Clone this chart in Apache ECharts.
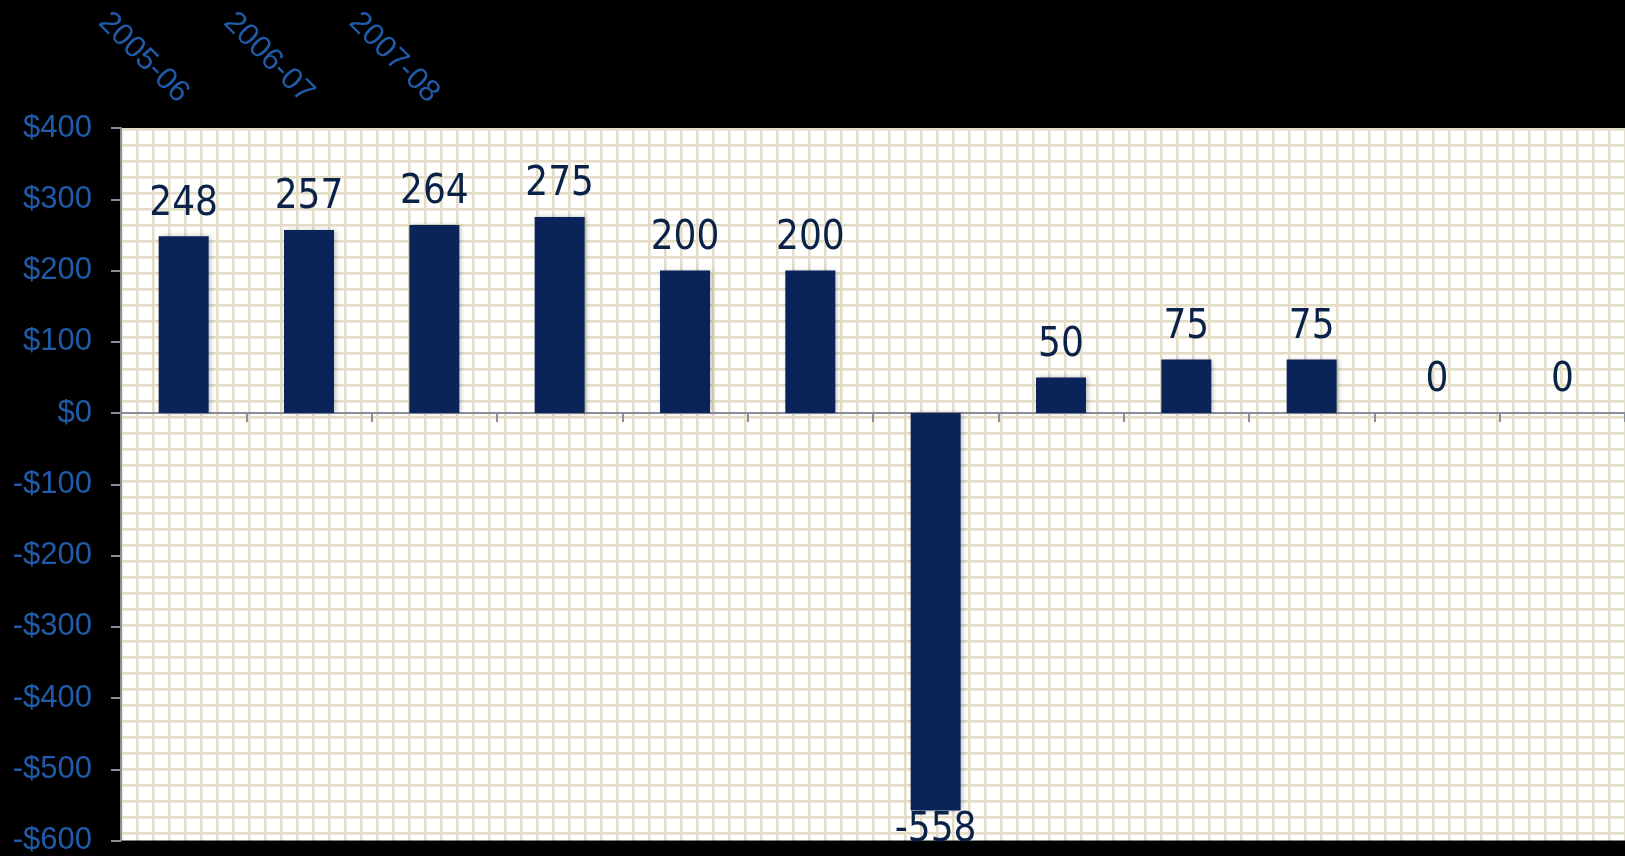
<!DOCTYPE html>
<html><head><meta charset="utf-8">
<script src="https://cdn.jsdelivr.net/npm/echarts@6/dist/echarts.min.js"></script>
<style>html,body{margin:0;padding:0;background:#000;}#c{width:1625px;height:856px;}</style>
</head><body><div id="c"></div>
<script>
const categories = ['2005-06','2006-07','2007-08','','','','','','','','',''];
const values = [248,257,264,275,200,200,-558,50,75,75,0,0];
const yTicks = {min:-600, max:400, interval:100};

const pc = document.createElement('canvas');
pc.width = 16; pc.height = 16;
const g = pc.getContext('2d');
g.fillStyle = '#ffffff'; g.fillRect(0,0,16,16);
g.fillStyle = '#f0ebdd';
g.fillRect(0,2,16,1);
g.fillRect(10,0,1,16);
g.fillStyle = '#e3dcc6';
g.fillRect(0,0,16,2);
g.fillRect(8,0,2,16);

const blue = '#1f5ba8';
const axisGrey = '#8a8e99';
const chart = echarts.init(document.getElementById('c'));
chart.setOption({
  backgroundColor:'#000000',
  animation:false,
  grid:{left:121, right:-9, top:128, bottom:15, show:true, borderWidth:0, backgroundColor:{image:pc, repeat:'repeat'}},
  xAxis:[
    {type:'category', data:categories, position:'top',
     axisLine:{show:false, onZero:false}, axisTick:{show:false}, splitLine:{show:false},
     axisLabel:{rotate:45, interval:0, color:blue, fontSize:31, margin:30, fontFamily:'Liberation Sans, Arial'}},
    {type:'category', data:categories, position:'bottom',
     axisLine:{onZero:true, onZeroAxisIndex:0, lineStyle:{color:axisGrey, width:2}},
     axisTick:{show:true, length:9, lineStyle:{color:axisGrey, width:2}},
     axisLabel:{show:false}, splitLine:{show:false}}
  ],
  yAxis:{type:'value', min:yTicks.min, max:yTicks.max, interval:yTicks.interval,
    axisLine:{show:true, onZero:false, lineStyle:{color:axisGrey, width:2}},
    axisTick:{show:true, length:10, lineStyle:{color:axisGrey, width:2}},
    splitLine:{show:false},
    axisLabel:{color:blue, fontSize:31, margin:29, fontFamily:'Liberation Sans, Arial',
      formatter:v => (v<0?'-$':'$') + Math.abs(v)}},
  series:[{
    type:'bar', xAxisIndex:0, barWidth:50,
    data: values.map(v => v < 0 ? {value:v, label:{position:'bottom', distance:0}} : v),
    itemStyle:{color:'#0a2358', shadowColor:'rgba(0,0,0,0.25)', shadowBlur:5, shadowOffsetX:2},
    label:{show:true, position:'top', distance:12, color:'#0a2248', fontSize:40,
      fontFamily:'DejaVu Sans Condensed, sans-serif'}
  }]
});
</script></body></html>
